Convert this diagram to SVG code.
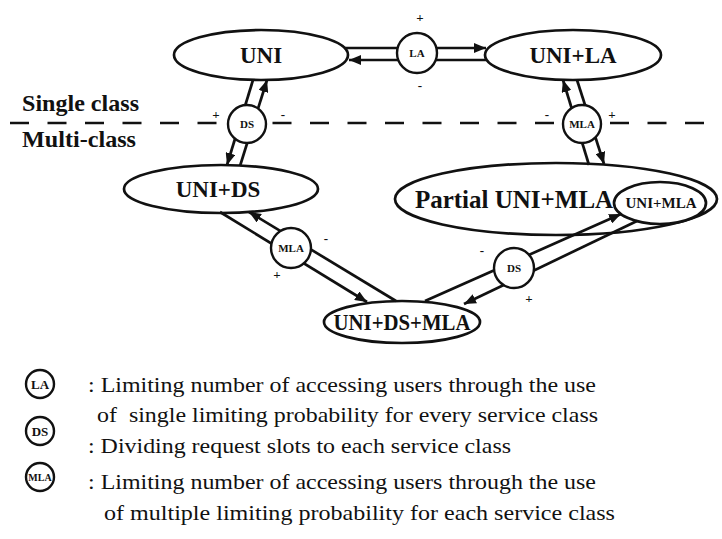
<svg xmlns="http://www.w3.org/2000/svg" width="722" height="539" viewBox="0 0 722 539">
  <style>
    .node { fill: #fff; stroke: #111; stroke-width: 2.7; }
    .op { fill: #fff; stroke: #111; stroke-width: 2.4; }
    .arrow { fill: none; stroke: #111; stroke-width: 2.7; marker-end: url(#head); }
    .divider { fill: none; stroke: #111; stroke-width: 2.4; stroke-dasharray: 19 18.5; }
    .nlabel { font-family: "Liberation Serif", "Times New Roman", serif; font-weight: bold; font-size: 23px; fill: #111; text-anchor: middle; }
    .olabel { font-family: "Liberation Serif", "Times New Roman", serif; font-weight: bold; font-size: 11px; fill: #111; text-anchor: middle; }
    .sign { font-family: "Liberation Serif", "Times New Roman", serif; font-weight: bold; font-size: 13px; fill: #111; text-anchor: middle; }
    .region { font-family: "Liberation Serif", "Times New Roman", serif; font-weight: bold; font-size: 23px; fill: #111; }
    .legend { font-family: "Liberation Serif", "Times New Roman", serif; font-size: 21px; fill: #111; }
    .lcircle { fill: #fff; stroke: #111; stroke-width: 2.4; }
    .llabel { font-family: "Liberation Serif", "Times New Roman", serif; font-weight: bold; font-size: 13px; fill: #111; text-anchor: middle; }
  </style>
  <defs>
    <marker id="head" markerUnits="userSpaceOnUse" markerWidth="13" markerHeight="10" refX="12" refY="5" orient="auto">
      <path d="M0,0 L12,5 L0,10 z" fill="#111"/>
    </marker>
  </defs>

  <!-- class boundary -->
  <line class="divider" x1="10" y1="123" x2="722" y2="123"/>
  <text class="region" x="22" y="111" textLength="117" lengthAdjust="spacingAndGlyphs">Single class</text>
  <text class="region" x="22" y="147" textLength="114" lengthAdjust="spacingAndGlyphs">Multi-class</text>

  <!-- states -->
  <g id="uni">
    <ellipse class="node" cx="261" cy="55" rx="87" ry="25"/>
    <text class="nlabel" x="261" y="63">UNI</text>
  </g>
  <g id="uni-la">
    <ellipse class="node" cx="573" cy="55" rx="88" ry="25"/>
    <text class="nlabel" x="573" y="63">UNI+LA</text>
  </g>
  <g id="uni-ds">
    <ellipse class="node" cx="221" cy="189" rx="97" ry="24"/>
    <text class="nlabel" x="218" y="197">UNI+DS</text>
  </g>
  <g id="partial-uni-mla">
    <ellipse class="node" cx="556" cy="199" rx="161" ry="36"/>
    <text class="nlabel" x="514" y="208" style="font-size:25px">Partial UNI+MLA</text>
  </g>
  <g id="uni-mla">
    <ellipse class="node" cx="660" cy="203" rx="46" ry="21"/>
    <text class="nlabel" x="661" y="208" style="font-size:15px">UNI+MLA</text>
  </g>
  <g id="uni-ds-mla">
    <ellipse class="node" cx="402" cy="322" rx="78" ry="21"/>
    <text class="nlabel" x="402" y="330" textLength="137" lengthAdjust="spacingAndGlyphs">UNI+DS+MLA</text>
  </g>

  <!-- transitions -->
  <g id="connectors">
    <line class="arrow" x1="344" y1="48" x2="486" y2="48"/>
    <line class="arrow" x1="487" y1="60" x2="349" y2="60"/>
    <line class="arrow" x1="240" y1="166" x2="267" y2="80"/>
    <line class="arrow" x1="253" y1="80" x2="227" y2="165"/>
    <line class="arrow" x1="589" y1="165" x2="563" y2="80"/>
    <line class="arrow" x1="577" y1="80" x2="604" y2="164"/>
    <line class="arrow" x1="220" y1="212" x2="367" y2="302"/>
    <line class="arrow" x1="396" y1="301" x2="249" y2="212"/>
    <line class="arrow" x1="425" y1="301" x2="621" y2="214"/>
    <line class="arrow" x1="637" y1="221" x2="464" y2="304"/>
  </g>

  <!-- operators -->
  <g id="op-la">
    <circle class="op" cx="417" cy="53" r="20"/>
    <text class="olabel" x="417" y="57">LA</text>
    <text class="sign" x="420" y="22">+</text>
    <text class="sign" x="420" y="90">-</text>
  </g>
  <g id="op-ds-single">
    <circle class="op" cx="247" cy="124" r="19"/>
    <text class="olabel" x="247" y="128">DS</text>
    <text class="sign" x="216" y="119">+</text>
    <text class="sign" x="283" y="119">-</text>
  </g>
  <g id="op-mla-single">
    <circle class="op" cx="582" cy="124" r="19"/>
    <text class="olabel" x="582" y="128">MLA</text>
    <text class="sign" x="547" y="119">-</text>
    <text class="sign" x="612" y="119">+</text>
  </g>
  <g id="op-mla-multi">
    <circle class="op" cx="291" cy="248" r="20"/>
    <text class="olabel" x="291" y="252">MLA</text>
    <text class="sign" x="326" y="243">-</text>
    <text class="sign" x="277" y="279">+</text>
  </g>
  <g id="op-ds-multi">
    <circle class="op" cx="514" cy="268" r="20"/>
    <text class="olabel" x="514" y="272">DS</text>
    <text class="sign" x="482" y="255">-</text>
    <text class="sign" x="529" y="303">+</text>
  </g>

  <!-- key -->
  <g id="legend">
    <circle class="lcircle" cx="40" cy="384" r="14"/>
    <text class="llabel" x="40" y="389">LA</text>
    <circle class="lcircle" cx="40" cy="431" r="14"/>
    <text class="llabel" x="40" y="436">DS</text>
    <circle class="lcircle" cx="40" cy="477" r="14"/>
    <text class="llabel" x="40" y="481" style="font-size:10px">MLA</text>
    <text class="legend" x="88" y="392" textLength="508" lengthAdjust="spacingAndGlyphs">: Limiting number of accessing users through the use</text>
    <text class="legend" x="97" y="422" textLength="501" lengthAdjust="spacingAndGlyphs" xml:space="preserve">of  single limiting probability for every service class</text>
    <text class="legend" x="88" y="453" textLength="423" lengthAdjust="spacingAndGlyphs">: Dividing request slots to each service class</text>
    <text class="legend" x="88" y="489" textLength="508" lengthAdjust="spacingAndGlyphs">: Limiting number of accessing users through the use</text>
    <text class="legend" x="104" y="520" textLength="511" lengthAdjust="spacingAndGlyphs">of multiple limiting probability for each service class</text>
  </g>
</svg>
